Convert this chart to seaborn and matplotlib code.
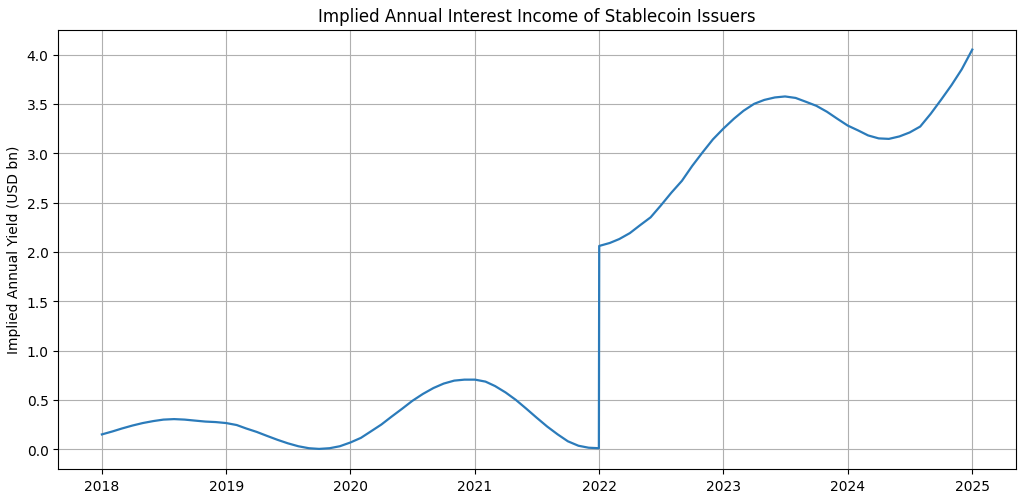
import pandas as pd
import matplotlib
matplotlib.use('Agg')
import matplotlib.pyplot as plt
import matplotlib.dates as mdates
import seaborn as sns

# monthly readings (USD bn)
months = pd.date_range('2018-01-01', '2025-01-01', freq='MS')
yield_2018 = [0.15, 0.18, 0.21, 0.24, 0.265, 0.285, 0.30, 0.305, 0.30, 0.29, 0.28, 0.275]
yield_2019 = [0.265, 0.245, 0.21, 0.175, 0.135, 0.095, 0.06, 0.03, 0.01, 0.003, 0.01, 0.03]
yield_2020 = [0.068, 0.115, 0.18, 0.25, 0.33, 0.41, 0.49, 0.56, 0.62, 0.665, 0.695, 0.705]
yield_2021 = [0.705, 0.685, 0.64, 0.575, 0.50, 0.41, 0.32, 0.23, 0.15, 0.08, 0.035, 0.015]
yield_2022 = [2.06, 2.09, 2.13, 2.19, 2.27, 2.35, 2.47, 2.60, 2.72, 2.87, 3.01, 3.14]
yield_2023 = [3.25, 3.35, 3.43, 3.50, 3.54, 3.565, 3.575, 3.56, 3.52, 3.48, 3.42, 3.35]
yield_2024 = [3.28, 3.23, 3.18, 3.15, 3.145, 3.17, 3.21, 3.27, 3.40, 3.54, 3.69, 3.85]
yield_2025 = [4.05]

# last day before the jump
jump_date = pd.Timestamp('2021-12-31')
jump_value = 0.01

values = yield_2018 + yield_2019 + yield_2020 + yield_2021 + yield_2022 + yield_2023 + yield_2024 + yield_2025
df = pd.DataFrame({'date': months, 'yield_bn': values})
df = pd.concat([df, pd.DataFrame({'date': [jump_date], 'yield_bn': [jump_value]})])
df = df.sort_values('date').reset_index(drop=True)

fig, ax = plt.subplots(figsize=(10.24, 5.02), dpi=100)
sns.lineplot(data=df, x='date', y='yield_bn', ax=ax, color='#2b7bba', linewidth=1.6)
ax.set_title('Implied Annual Interest Income of Stablecoin Issuers')
ax.set_xlabel('')
ax.set_ylabel('Implied Annual Yield (USD bn)')
ax.xaxis.set_major_locator(mdates.YearLocator())
ax.xaxis.set_major_formatter(mdates.DateFormatter('%Y'))
ax.grid(True)
fig.subplots_adjust(left=0.057, right=0.992, top=0.939, bottom=0.064)
fig.savefig('out.png', dpi=100)
